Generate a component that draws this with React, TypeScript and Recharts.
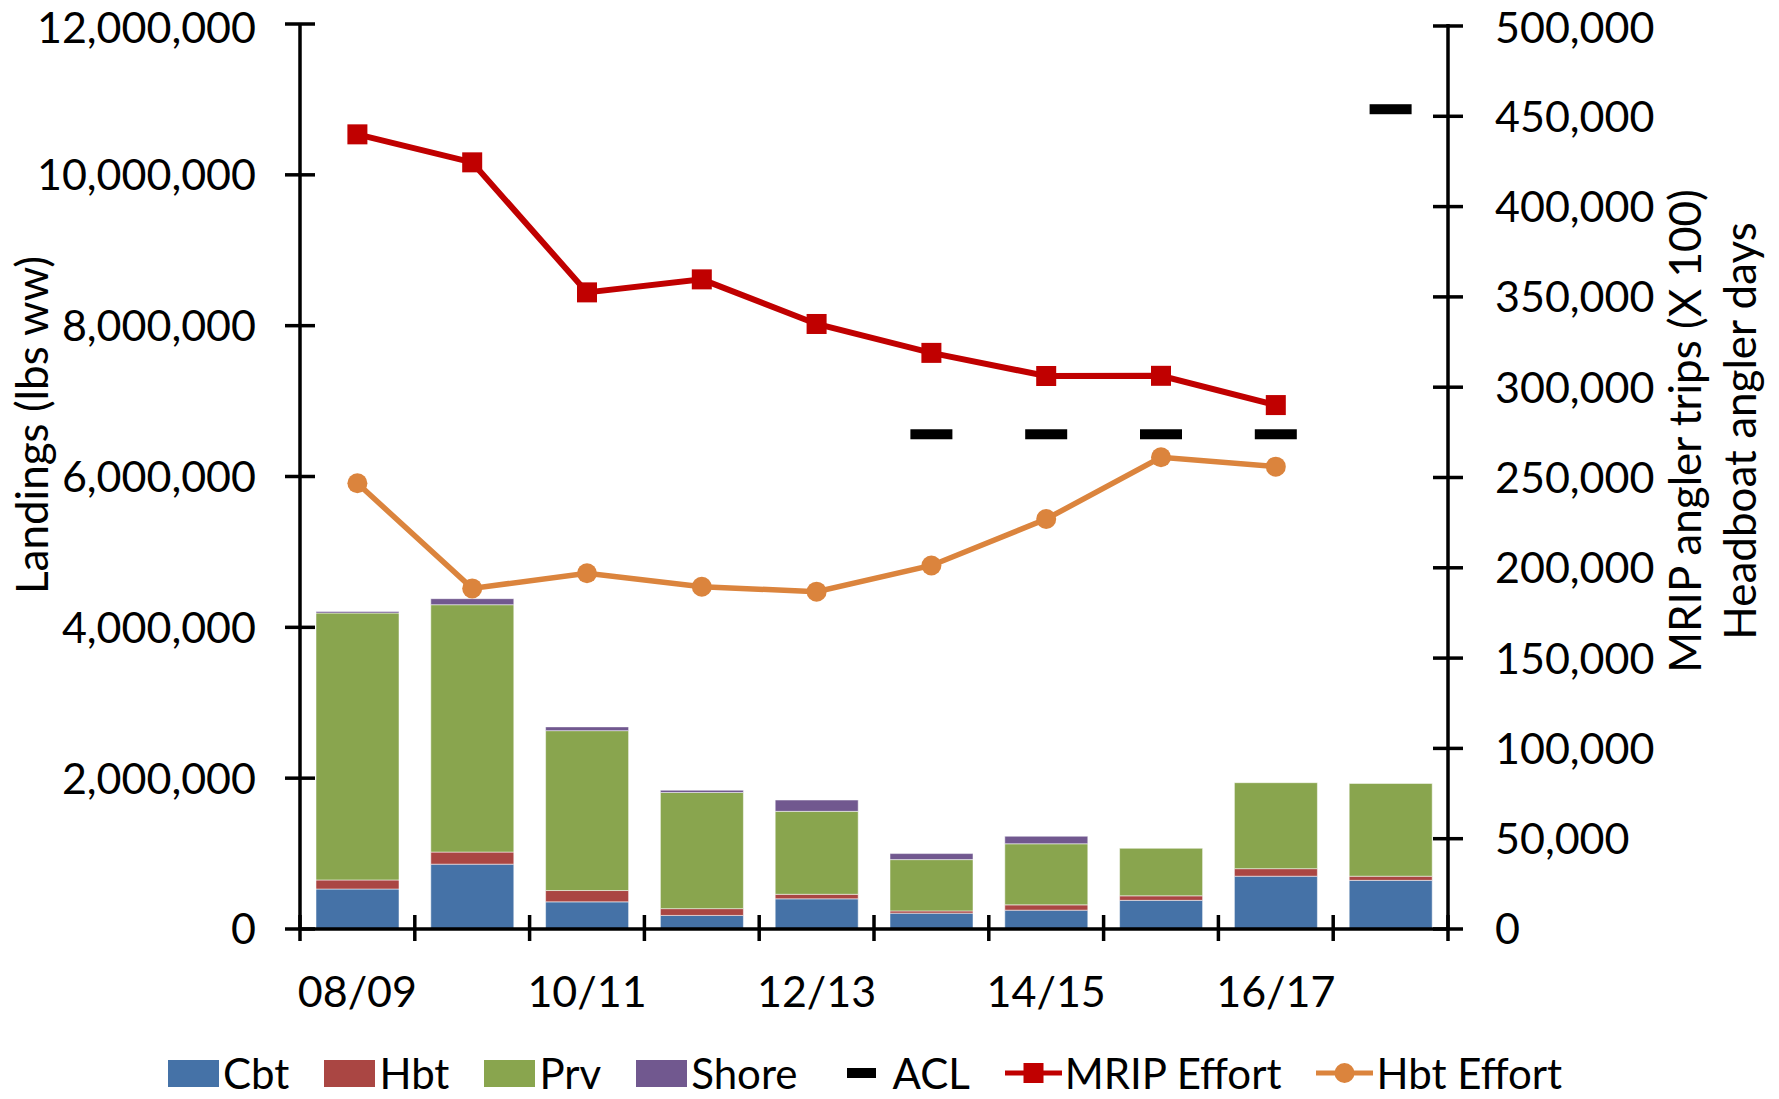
import { ComposedChart, Bar, Line, XAxis, YAxis, Legend } from 'recharts';

// fishing seasons on the category axis
const seasons = ['08/09', '09/10', '10/11', '11/12', '12/13', '13/14', '14/15', '15/16', '16/17', '17/18'];

// landings by mode (lbs ww)
const cbt = [530000, 860000, 360000, 180000, 400000, 210000, 250000, 380000, 700000, 645000];
const hbt = [120000, 160000, 150000, 90000, 60000, 30000, 70000, 60000, 100000, 55000];
const prv = [3540000, 3280000, 2120000, 1540000, 1100000, 680000, 810000, 630000, 1140000, 1230000];
const shore = [20000, 80000, 50000, 30000, 150000, 80000, 100000, 0, 0, 0];
const acl = [null, null, null, null, null, 6560000, 6560000, 6560000, 6560000, 10870000];

// effort series (right axis)
const mripEffort = [440000, 424500, 352500, 359700, 335000, 319000, 306200, 306300, 290100, null];
const hbtEffort = [246800, 188600, 197000, 189500, 186800, 201300, 227000, 261200, 256000, null];

const leftTicks = [0, 2000000, 4000000, 6000000, 8000000, 10000000, 12000000];
const rightTicks = [0, 50000, 100000, 150000, 200000, 250000, 300000, 350000, 400000, 450000, 500000];

const data = seasons.map((season, i) => ({
  season,
  cbt: cbt[i],
  hbt: hbt[i],
  prv: prv[i],
  shore: shore[i],
  acl: acl[i],
  mrip: mripEffort[i],
  hbtEffort: hbtEffort[i],
}));

const COLORS = {
  cbt: '#4572A7',
  hbt: '#AA4643',
  prv: '#89A54E',
  shore: '#71588F',
  mrip: '#C00000',
  hbtEffort: '#DB843D',
};

const W = 1779;
const H = 1099;
const LEFT_W = 300;
const RIGHT_W = 331;
const PLOT_W = W - LEFT_W - RIGHT_W;
const BAND = PLOT_W / seasons.length;
const TICK = 15;
const AXIS_STROKE = 3.5;
const FONT = 'Lato, "Open Sans", sans-serif';
const TICK_FONT = 43;
// keep the topmost tick labels inside the page
const MIN_BASELINE = 43;

const fmt = (v: number) => v.toLocaleString('en-US');
const baseline = (y: number) => Math.max(y + 0.36 * TICK_FONT, MIN_BASELINE);

const LeftTick = (props: any) => {
  const { x, y, payload } = props;
  const gap = 29;
  return (
    <g>
      <line x1={x + gap} x2={x + gap + 2 * TICK} y1={y} y2={y} stroke="#000" strokeWidth={AXIS_STROKE} />
      <text x={x} y={baseline(y)} textAnchor="end" fontSize={TICK_FONT} fontFamily={FONT} fill="#000">
        {fmt(payload.value)}
      </text>
    </g>
  );
};

const RightTick = (props: any) => {
  const { x, y, payload } = props;
  const gap = 32;
  return (
    <g>
      <line x1={x - gap - 2 * TICK} x2={x - gap} y1={y} y2={y} stroke="#000" strokeWidth={AXIS_STROKE} />
      <text x={x} y={baseline(y)} textAnchor="start" fontSize={TICK_FONT} fontFamily={FONT} fill="#000">
        {fmt(payload.value)}
      </text>
    </g>
  );
};

const SeasonTick = (props: any) => {
  const { x, y, payload, index } = props;
  const left = x - BAND / 2;
  const right = x + BAND / 2;
  return (
    <g>
      <line x1={left} x2={left} y1={y - 14} y2={y + 12} stroke="#000" strokeWidth={AXIS_STROKE} />
      {index === seasons.length - 1 && (
        <line x1={right} x2={right} y1={y - 14} y2={y + 12} stroke="#000" strokeWidth={AXIS_STROKE} />
      )}
      {index % 2 === 0 && (
        <text x={x} y={y + 78} textAnchor="middle" fontSize={TICK_FONT} fontFamily={FONT} fill="#000">
          {payload.value}
        </text>
      )}
    </g>
  );
};

const SquareDot = (props: any) => {
  const { cx, cy, index } = props;
  if (cx == null || cy == null || Number.isNaN(cy)) return <g key={`sq-${index}`} />;
  return <rect key={`sq-${index}`} x={cx - 10} y={cy - 10} width={20} height={20} fill={COLORS.mrip} />;
};

const CircleDot = (props: any) => {
  const { cx, cy, index } = props;
  if (cx == null || cy == null || Number.isNaN(cy)) return <g key={`ci-${index}`} />;
  return <circle key={`ci-${index}`} cx={cx} cy={cy} r={10} fill={COLORS.hbtEffort} />;
};

const AclDash = (props: any) => {
  const { cx, cy, index } = props;
  if (cx == null || cy == null || Number.isNaN(cy)) return <g key={`acl-${index}`} />;
  return <rect key={`acl-${index}`} x={cx - 21} y={cy - 5} width={42} height={10} fill="#000" />;
};

const legendItems = [
  { label: 'Cbt', kind: 'box', color: COLORS.cbt },
  { label: 'Hbt', kind: 'box', color: COLORS.hbt },
  { label: 'Prv', kind: 'box', color: COLORS.prv },
  { label: 'Shore', kind: 'box', color: COLORS.shore },
  { label: 'ACL', kind: 'dash', color: '#000' },
  { label: 'MRIP Effort', kind: 'square', color: COLORS.mrip },
  { label: 'Hbt Effort', kind: 'circle', color: COLORS.hbtEffort },
];

function LegendMarker({ kind, color }: { kind: string; color: string }) {
  if (kind === 'box') {
    return <span style={{ display: 'inline-block', width: 51, height: 27, background: color, marginRight: 4 }} />;
  }
  return (
    <svg width={57} height={30} style={{ marginRight: 3 }}>
      {kind === 'dash' && <rect x={14} y={10} width={29} height={10} fill={color} />}
      {kind !== 'dash' && <line x1={0} x2={57} y1={15} y2={15} stroke={color} strokeWidth={5} />}
      {kind === 'square' && <rect x={18.5} y={5} width={20} height={20} fill={color} />}
      {kind === 'circle' && <circle cx={28.5} cy={15} r={10} fill={color} />}
    </svg>
  );
}

function ChartLegend() {
  return (
    <div style={{ display: 'flex', alignItems: 'center', gap: 35, fontFamily: FONT, fontSize: 42, lineHeight: 'normal', color: '#000' }}>
      {legendItems.map((item) => (
        <div key={item.label} style={{ display: 'flex', alignItems: 'center', whiteSpace: 'nowrap' }}>
          <LegendMarker kind={item.kind} color={item.color} />
          <span>{item.label}</span>
        </div>
      ))}
    </div>
  );
}

const titleStyle = {
  position: 'absolute' as const,
  transform: 'translate(-50%, -50%) rotate(-90deg)',
  whiteSpace: 'nowrap' as const,
  fontFamily: FONT,
  fontSize: 44,
  color: '#000',
  lineHeight: 1,
};

export default function App() {
  return (
    <div style={{ position: 'fixed', left: 0, top: 0, width: W, height: H, background: '#fff', fontFamily: FONT }}>
      <ComposedChart width={W} height={H} data={data} margin={{ top: 24, right: 0, bottom: 0, left: 0 }}>
        <XAxis
          dataKey="season"
          interval={0}
          height={170}
          tickSize={0}
          tickMargin={0}
          tickLine={false}
          axisLine={{ stroke: '#000', strokeWidth: AXIS_STROKE }}
          tick={<SeasonTick />}
        />
        <YAxis
          yAxisId="left"
          width={LEFT_W}
          domain={[0, 12000000]}
          ticks={leftTicks}
          tickSize={TICK}
          tickMargin={29}
          tickLine={false}
          axisLine={{ stroke: '#000', strokeWidth: AXIS_STROKE }}
          tick={<LeftTick />}
        />
        <YAxis
          yAxisId="right"
          orientation="right"
          width={RIGHT_W}
          domain={[0, 501100]}
          ticks={rightTicks}
          tickSize={TICK}
          tickMargin={32}
          tickLine={false}
          axisLine={{ stroke: '#000', strokeWidth: AXIS_STROKE }}
          tick={<RightTick />}
        />
        <Bar yAxisId="left" dataKey="cbt" stackId="land" fill={COLORS.cbt} barSize={83} stroke="rgba(255,255,255,0.5)" strokeWidth={1} isAnimationActive={false} />
        <Bar yAxisId="left" dataKey="hbt" stackId="land" fill={COLORS.hbt} barSize={83} stroke="rgba(255,255,255,0.5)" strokeWidth={1} isAnimationActive={false} />
        <Bar yAxisId="left" dataKey="prv" stackId="land" fill={COLORS.prv} barSize={83} stroke="rgba(255,255,255,0.5)" strokeWidth={1} isAnimationActive={false} />
        <Bar yAxisId="left" dataKey="shore" stackId="land" fill={COLORS.shore} barSize={83} stroke="rgba(255,255,255,0.5)" strokeWidth={1} isAnimationActive={false} />
        <Line yAxisId="left" dataKey="acl" stroke="none" dot={AclDash} activeDot={false} isAnimationActive={false} />
        <Line yAxisId="right" type="linear" dataKey="mrip" stroke={COLORS.mrip} strokeWidth={6} dot={SquareDot} activeDot={false} isAnimationActive={false} />
        <Line yAxisId="right" type="linear" dataKey="hbtEffort" stroke={COLORS.hbtEffort} strokeWidth={5.5} dot={CircleDot} activeDot={false} isAnimationActive={false} />
        <Legend
          layout="horizontal"
          verticalAlign="middle"
          align="center"
          wrapperStyle={{ left: 168, top: 1048, width: 'auto' }}
          content={() => <ChartLegend />}
        />
      </ComposedChart>
      <div style={{ ...titleStyle, left: 31, top: 425 }}>Landings (lbs ww)</div>
      <div style={{ ...titleStyle, left: 1684, top: 431 }}>MRIP angler trips (X 100)</div>
      <div style={{ ...titleStyle, left: 1739, top: 431 }}>Headboat angler days</div>
    </div>
  );
}
